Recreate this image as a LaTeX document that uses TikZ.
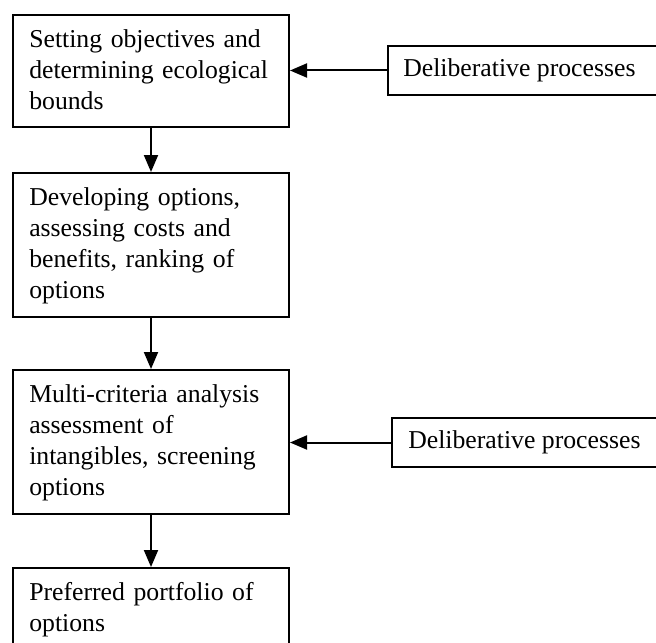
\documentclass[tikz,border=0pt]{standalone}
\usepackage{fontspec}
\setmainfont{Liberation Serif}
\usetikzlibrary{arrows.meta}
\begin{document}
\begin{tikzpicture}[x=0.75pt,y=-0.75pt,
  box/.style={draw=black,line width=1.5pt,rectangle,inner sep=0pt,anchor=north west},
  txt/.style={inner sep=0pt,anchor=north west,align=left,text width=190pt,
    font={\fontsize{19.3}{23.25}\selectfont}},
  side/.style={inner sep=0pt,anchor=west,font={\fontsize{19.3}{23.25}\selectfont}},
  arr/.style={line width=1.5pt,-{Triangle[length=12.75pt,width=10.5pt]}}]
\useasboundingbox (0,0) rectangle (656,642);
\clip (0,0) rectangle (656,642);
% left boxes
\node[box,minimum width=207pt,minimum height=84pt] (b1) at (12,14) {};
\node[box,minimum width=207pt,minimum height=108pt] (b2) at (12,172) {};
\node[box,minimum width=207pt,minimum height=108pt] (b3) at (12,369) {};
\node[box,minimum width=207pt,minimum height=100pt] (b4) at (12,567) {};
\node[txt] (t1) at (29,25.3) {\strut Setting objectives and\\determining ecological\\bounds};
\node[txt] (t2) at (29,183.3) {\strut Developing options,\\assessing costs and\\benefits, ranking of\\options};
\node[txt] (t3) at (29,380.3) {\strut Multi-criteria analysis\\assessment of\\intangibles, screening\\options};
\node[txt] (t4) at (29,578.3) {\strut Preferred portfolio of\\options};
% right boxes
\node[box,minimum width=240pt,minimum height=36.75pt] (r1) at (387,45) {};
\node[box,minimum width=240pt,minimum height=36.75pt] (r2) at (391,417) {};
\node[side] (s1) at ([xshift=16*0.75pt]r1.west) {Deliberative processes};
\node[side] (s2) at ([xshift=17*0.75pt]r2.west) {Deliberative processes};
% connectors
\draw[arr] (b1.south) -- (b2.north);
\draw[arr] (b2.south) -- (b3.north);
\draw[arr] (b3.south) -- (b4.north);
\draw[arr] (r1.west) -- (r1.west -| b1.east);
\draw[arr] (r2.west) -- (r2.west -| b3.east);
\end{tikzpicture}
\end{document}
